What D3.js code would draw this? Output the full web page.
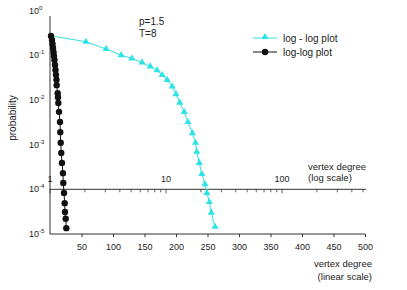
<!DOCTYPE html>
<html>
<head>
<meta charset="utf-8">
<script src="https://cdn.jsdelivr.net/npm/d3@7"></script>
<style>
  body { margin: 0; background: #fff; }
  text { font-family: "Liberation Sans", Arial, sans-serif; fill: #222; }
</style>
</head>
<body>
<div id="chart"></div>
<script>
// degree distribution
const cyanDegree = [1.6, 57, 89, 113, 130, 146, 159, 170, 178, 186, 194, 200, 206, 213,
    219, 226, 231, 233, 237, 241, 246, 249, 253, 256, 262];
const cyanProb = [2.7e-1, 2.0e-1, 1.38e-1, 1.0e-1, 8.5e-2, 6.9e-2, 5.6e-2, 4.6e-2, 3.6e-2,
    2.8e-2, 2.0e-2, 1.35e-2, 8.7e-3, 5.4e-3, 3.2e-3, 1.8e-3, 1.1e-3, 6.9e-4, 3.9e-4,
    2.2e-4, 1.3e-4, 8.3e-5, 5.2e-5, 3.0e-5, 1.45e-5];

const blackDegree = [1.6, 3.2, 4.0, 4.8, 5.6, 6.3, 7.1, 7.9, 8.7, 9.5, 10.3, 10.6, 12.2, 12.7,
    13.2, 14.3, 15.9, 16.3, 17.0, 17.9, 19.0, 20.6, 21.1, 22.2, 23.3, 23.8, 24.9, 25.9];
const blackProb = [2.69e-1, 2.19e-1, 1.78e-1, 1.45e-1, 1.17e-1, 9.55e-2, 7.76e-2, 6.03e-2,
    4.68e-2, 3.63e-2, 2.82e-2, 2.14e-2, 1.41e-2, 1.15e-2, 8.5e-3, 5.4e-3, 3.2e-3, 1.9e-3,
    1.1e-3, 6.5e-4, 3.9e-4, 2.3e-4, 1.38e-4, 8.3e-5, 4.9e-5, 3.1e-5, 2.2e-5, 1.35e-5];

const yTickExp = [0, -1, -2, -3, -4, -5];
const linearTicks = [50, 100, 150, 200, 250, 300, 350, 400, 450, 500];
const logMajor = [1, 10, 100];
const legendLabels = ["log - log  plot", "log-log plot"];

const width = 407, height = 290;
const cyan = "#2ee3e3", black = "#111";

const svg = d3.select("#chart").append("svg")
    .attr("width", width)
    .attr("height", height);

const x = d3.scaleLinear().domain([0, 500]).range([50, 365]);
const xLog = d3.scaleLog().domain([1, 1000]).range([50, 398]);
const y = d3.scaleLog().domain([1, 1e-5]).range([10.5, 234]);

// y axis
svg.append("line")
    .attr("x1", 50).attr("x2", 50)
    .attr("y1", 16).attr("y2", y(1e-5))
    .attr("stroke", "#333").attr("stroke-width", 1);

const yLab = svg.selectAll(".ylab")
    .data(yTickExp).enter()
    .append("text")
    .attr("x", 29)
    .attr("y", d => y(Math.pow(10, d)) + 3)
    .attr("font-size", 9);
yLab.append("tspan").text("10");
yLab.append("tspan")
    .attr("dy", -4)
    .attr("font-size", 6)
    .text(d => d === 0 ? "0" : d);

svg.append("text")
    .attr("transform", "translate(16,118) rotate(-90)")
    .attr("text-anchor", "middle")
    .attr("font-size", 10)
    .text("probability");

// bottom linear axis
const gx = svg.append("g")
    .attr("transform", "translate(0," + y(1e-5) + ")")
    .call(d3.axisBottom(x).tickValues(linearTicks).tickSize(3).tickSizeOuter(0));
gx.select(".domain").attr("stroke", "#333").attr("d", "M50,0H365");
gx.selectAll(".tick line").attr("stroke", "#333");
gx.selectAll(".tick text").attr("font-size", 9).attr("dy", "1.1em").attr("fill", "#222");

svg.append("text").attr("x", 372).attr("y", 267).attr("text-anchor", "end")
    .attr("font-size", 9.5).text("vertex degree");
svg.append("text").attr("x", 372).attr("y", 280).attr("text-anchor", "end")
    .attr("font-size", 9.5).text("(linear scale)");

// log axis across the plot at 10^-4
const logY = y(1e-4);
const logTicks = [];
[1, 10, 100].forEach(b => {
    for (let k = 1; k <= 9; k++) if (b * k <= 500) logTicks.push(b * k);
});
svg.append("line")
    .attr("x1", 50).attr("x2", 366)
    .attr("y1", logY).attr("y2", logY)
    .attr("stroke", "#333").attr("stroke-width", 1);
svg.selectAll(".logtick")
    .data(logTicks).enter()
    .append("line")
    .attr("x1", d => xLog(d)).attr("x2", d => xLog(d))
    .attr("y1", logY).attr("y2", d => logMajor.includes(d) ? logY + 4 : logY + 3)
    .attr("stroke", "#333").attr("stroke-width", 0.8);
svg.selectAll(".loglab")
    .data(logMajor).enter()
    .append("text")
    .attr("x", d => xLog(d))
    .attr("y", logY - 7)
    .attr("text-anchor", "middle")
    .attr("font-size", 9)
    .text(d => d);

svg.append("text").attr("x", 308).attr("y", 170)
    .attr("font-size", 9.5).text("vertex degree");
svg.append("text").attr("x", 308).attr("y", 181)
    .attr("font-size", 9.5).text("(log scale)");

// parameters
svg.append("text").attr("x", 139).attr("y", 25).attr("font-size", 10).text("p=1.5");
svg.append("text").attr("x", 139).attr("y", 37).attr("font-size", 10).text("T=8");

// series
const cyanData = cyanDegree.map((d, i) => [d, cyanProb[i]]);
const blackData = blackDegree.map((d, i) => [d, blackProb[i]]);

const line = d3.line().x(d => x(d[0])).y(d => y(d[1]));
const tri = d3.symbol().type(d3.symbolTriangle).size(22);

svg.append("path")
    .attr("d", line(cyanData))
    .attr("fill", "none").attr("stroke", cyan).attr("stroke-width", 1);
svg.selectAll(".tri")
    .data(cyanData.slice(1)).enter()
    .append("path")
    .attr("d", tri)
    .attr("transform", d => "translate(" + x(d[0]) + "," + y(d[1]) + ")")
    .attr("fill", cyan);

svg.append("path")
    .attr("d", line(blackData))
    .attr("fill", "none").attr("stroke", black).attr("stroke-width", 1);
svg.selectAll(".dot")
    .data(blackData).enter()
    .append("circle")
    .attr("cx", d => x(d[0]))
    .attr("cy", d => y(d[1]))
    .attr("r", 3.2)
    .attr("fill", black);

// legend
const legend = svg.append("g");
[cyan, black].forEach((c, i) => {
    const ly = 38 + i * 14;
    legend.append("line")
        .attr("x1", 253).attr("x2", 277).attr("y1", ly).attr("y2", ly)
        .attr("stroke", c).attr("stroke-width", 1);
    if (i === 0) {
        legend.append("path").attr("d", tri)
            .attr("transform", "translate(265," + (ly - 1) + ")")
            .attr("fill", c);
    } else {
        legend.append("circle").attr("cx", 265).attr("cy", ly).attr("r", 3.2).attr("fill", c);
    }
    legend.append("text")
        .attr("x", 283).attr("y", ly + 3.5)
        .attr("font-size", 10)
        .text(legendLabels[i]);
});
</script>
</body>
</html>
